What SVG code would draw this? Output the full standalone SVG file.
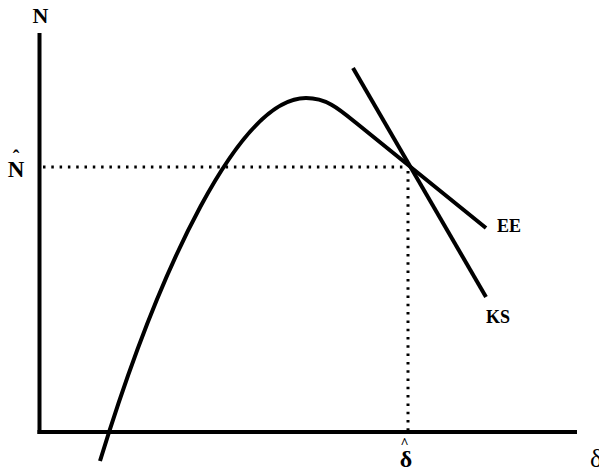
<svg xmlns="http://www.w3.org/2000/svg" width="599" height="471" viewBox="0 0 599 471">
<style>
.ax{stroke:#000;stroke-width:4;fill:none}
.cv{stroke:#000;stroke-width:4;fill:none;stroke-linecap:butt}
.dot{stroke:#000;stroke-width:3;fill:none;stroke-dasharray:2.5 5.8}
.lb{font-family:"Liberation Serif",serif;font-weight:bold;fill:#000}
</style>
<rect width="599" height="471" fill="#fff"/>
<g id="axes">
<line class="ax" x1="39.5" y1="33" x2="39.5" y2="434"/>
<line class="ax" x1="37.5" y1="432" x2="577" y2="432"/>
</g>
<g id="connectors">
<path class="dot" d="M43,167 H408"/>
<path class="dot" d="M408,171 V430"/>
<path id="EE-curve" class="cv" d="M100,461 C160,265 240,98 306,98 C326,98 338,108 355,122 L486,228"/>
<line id="KS-line" class="cv" x1="353" y1="68" x2="486" y2="297"/>
</g>
<g id="labels">
<text class="lb" x="40.5" y="23" font-size="22" text-anchor="middle">N</text>
<text class="lb" x="16" y="177" font-size="23" text-anchor="middle">N</text>
<text class="lb" x="16" y="165" font-size="20" text-anchor="middle">ˆ</text>
<text class="lb" x="404.5" y="448" font-size="14" text-anchor="middle" font-weight="normal">^</text>
<text class="lb" x="406" y="467" font-size="24" text-anchor="middle">δ</text>
<text x="590" y="467" font-size="26" font-family="Liberation Serif,serif" fill="#000">δ</text>
<text class="lb" x="497" y="232" font-size="18">EE</text>
<text class="lb" x="486" y="323" font-size="18">KS</text>
</g>
</svg>
